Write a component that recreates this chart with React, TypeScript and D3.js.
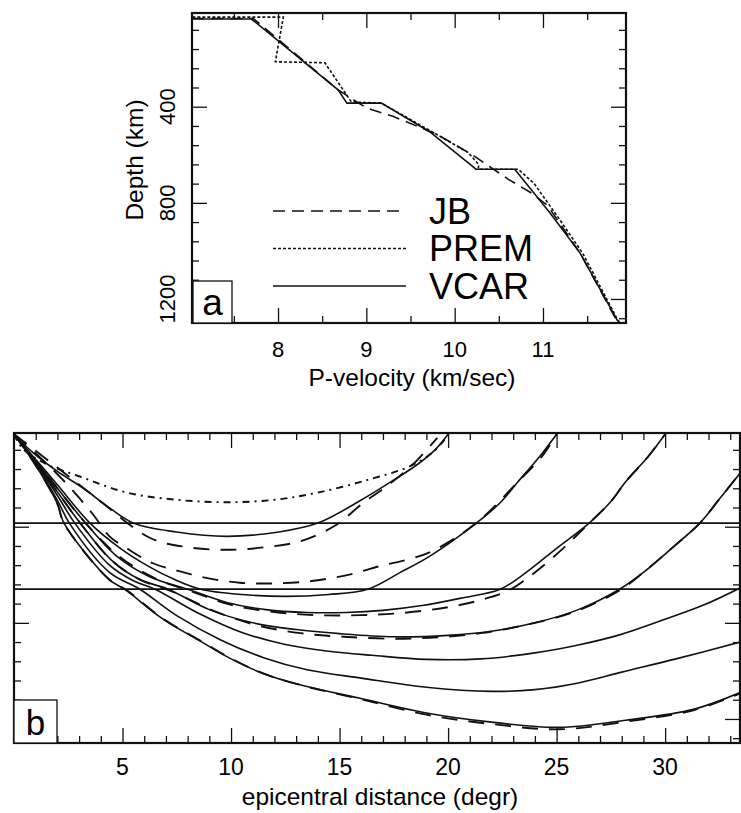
import React from 'react';
import {
    axisBottom,
    axisLeft,
    axisRight,
    axisTop,
    curveCatmullRom,
    curveLinear,
    line,
    scaleLinear,
    select
} from 'd3';

const FONT = '"Liberation Sans", Arial, Helvetica, sans-serif';

// (a) P-velocity models, [km/sec, depth km]
const jbModel = [
    [7.03, 33], [7.72, 33], [8.68, 330], [9.0, 405], [9.3, 440], [9.8, 515],
    [10.2, 600], [10.4, 650], [10.6, 700], [10.85, 755], [11.05, 810],
    [11.42, 1009], [11.85, 1300]
];
const premModel = [
    [7.03, 27], [8.06, 27], [7.97, 213], [8.53, 217], [8.83, 380], [9.17, 385],
    [9.7, 495], [10.15, 590], [10.27, 640], [10.27, 660], [10.72, 660],
    [10.9, 720], [11.19, 870], [11.45, 1010], [11.85, 1290], [11.87, 1300]
];
const vcarModel = [
    [7.03, 35], [7.7, 35], [8.68, 330], [8.78, 385], [9.17, 385], [9.72, 505],
    [10.21, 650], [10.24, 660], [10.68, 660], [11.08, 842], [11.42, 1009],
    [11.84, 1288], [11.87, 1300]
];

const modelNames = ['JB', 'PREM', 'VCAR'];
const velocityTicks = [8, 9, 10, 11];
const velocityMinorTicks = [7.5, 8.5, 9.5, 10.5, 11.5];
const depthTicks = [400, 800, 1200];
const depthMinorTicks = [80, 160, 240, 320, 480, 560, 640, 720, 880, 960, 1040, 1120, 1280];
const distanceTicks = [5, 10, 15, 20, 25, 30];
const distanceMinorTicks = [
    1, 2, 3, 4, 6, 7, 8, 9, 11, 12, 13, 14, 16, 17, 18, 19, 21, 22, 23, 24,
    26, 27, 28, 29, 31, 32, 33
];
const discontinuities = [385, 660];

// (b) ray paths, [epicentral distance degr, depth km]
const premRay20 = [
    [0, 15], [0.4, 75], [1.5, 140], [3, 190], [5.2, 258], [7.5, 288], [9.8, 298],
    [12, 288], [14, 258], [16.3, 205], [18.2, 150], [19.3, 90], [19.9, 30]
];
const vcarRay20 = [
    [0, 15], [0.9, 94], [2, 170], [3.2, 240], [4.3, 315], [5.5, 385], [7.5, 422],
    [9.8, 440], [12.2, 422], [14, 385], [15.9, 294], [17.4, 211], [18.6, 140],
    [19.4, 80], [20, 15]
];
const jbRay20 = [
    [0, 15], [1.8, 140], [3.8, 281], [6.3, 448], [8, 485], [9.8, 496], [11.6, 485],
    [13.2, 460], [14.8, 395], [16.1, 300], [17.2, 230], [18.5, 130], [19.5, 30]
];
const jbRay25 = [
    [0, 15], [1, 95], [2.2, 200], [3.6, 344], [4.4, 440], [5.2, 490], [6.4, 552],
    [7.6, 585], [8.9, 614], [10.4, 633], [12, 636], [13.8, 625], [15.5, 598],
    [16.85, 564], [18.2, 535], [19.3, 500], [21.3, 385], [23.2, 215], [24.3, 110],
    [25, 15]
];
const vcarRay25 = [
    [0, 15], [1, 120], [2, 225], [3.5, 385], [4.9, 490], [6.2, 565], [7.4, 620],
    [8.6, 660], [10.5, 682], [12.5, 690], [14.5, 682], [16.3, 660], [17.8, 590],
    [19.2, 520], [21.3, 385], [22.4, 300], [23.2, 215], [24.2, 110], [25, 15]
];
const vcarRay30 = [
    [0, 15], [1, 125], [2, 240], [3.3, 385], [4.7, 520], [6.3, 610], [8, 660],
    [9.8, 715], [11.6, 745], [13.5, 757], [15.3, 757], [17, 748], [18.8, 728],
    [20.6, 697], [22.4, 660], [23.6, 590], [25, 490], [26.5, 385], [27.5, 295],
    [28.2, 211], [29.2, 110], [30, 15]
];
const jbRay30 = [
    [0, 15], [1, 125], [2, 240], [3.3, 385], [4.8, 520], [6.5, 615], [8.2, 670],
    [10, 725], [12, 755], [14, 768], [16, 768], [18, 758], [20, 735], [21.5, 705],
    [22.8, 665], [24, 590], [25.3, 490], [26.5, 385], [27.5, 295], [28.2, 211],
    [29.2, 110], [30, 15]
];
const vcarRay35 = [
    [0, 15], [1, 130], [2, 255], [3.05, 385], [4.5, 540], [5.8, 620], [7.1, 660],
    [9, 745], [11, 800], [13, 828], [15, 845], [17.5, 858], [20, 852], [22, 835],
    [24, 800], [26, 745], [27.9, 660], [29, 590], [30.3, 490], [31.6, 385],
    [32.5, 285], [33.45, 177]
];
const jbRay35 = [
    [0, 15], [1, 130], [2, 255], [3.05, 385], [4.5, 540], [5.8, 620], [7.3, 670],
    [9.2, 750], [11.2, 810], [13.2, 843], [15.2, 858], [17.5, 866], [19.5, 860],
    [21.5, 843], [23.5, 810], [25.8, 755], [27.9, 665], [29, 590], [30.3, 490],
    [31.6, 385], [32.5, 285], [33.45, 177]
];
const vcarRay40 = [
    [0, 15], [1, 135], [2, 270], [2.8, 385], [4.4, 560], [5.5, 625], [6.5, 660],
    [8.5, 760], [10.5, 840], [12.5, 890], [14.5, 918], [16.5, 935], [19, 952],
    [21.5, 950], [24, 925], [26, 892], [27.9, 850], [30, 785], [31.8, 725],
    [33.45, 655]
];
const vcarRay45 = [
    [0, 15], [1, 140], [2, 290], [2.55, 385], [4.4, 590], [5.8, 660], [7.5, 770],
    [9.5, 870], [11.5, 945], [13.5, 995], [16, 1030], [19, 1068], [22, 1085],
    [24, 1078], [26, 1050], [28, 1005], [30.5, 950], [33.45, 880]
];
const vcarRay50 = [
    [0, 15], [1, 145], [2, 305], [2.3, 385], [4.4, 621], [5.1, 660], [6.8, 780],
    [8.6, 877], [10, 950], [11.6, 1015], [13.5, 1065], [15.9, 1113], [19, 1175],
    [22, 1213], [25.1, 1235], [28.2, 1205], [31.3, 1160], [33.45, 1090]
];
const jbRay50 = [
    [0, 15], [1, 145], [2, 305], [2.3, 385], [4.4, 621], [5.2, 665], [6.9, 785],
    [8.7, 880], [10.1, 953], [11.7, 1018], [13.6, 1068], [16, 1118], [19, 1182],
    [22, 1221], [25.1, 1243], [28.2, 1211], [31.3, 1164], [33.45, 1094]
];

const vcarRays = [vcarRay20, vcarRay25, vcarRay30, vcarRay35, vcarRay40, vcarRay45, vcarRay50];
const jbRays = [jbRay20, jbRay25, jbRay30, jbRay35, jbRay50];
const premRays = [premRay20];

const dashA = { JB: '12,7', PREM: '3,2', VCAR: null };
const dashB = { JB: '16,11', PREM: '7,5,2,5', VCAR: null };

const drawTicks = (g, x, y, xMajor, xMinor, yMajor, yMinor) => {
    const [left, right] = x.range();
    const [top, bottom] = y.range();
    const blank = () => '';

    [[xMinor, 7], [xMajor, 15]].forEach(([values, size]) => {
        g.append('g')
            .attr('transform', `translate(0,${bottom})`)
            .call(axisBottom(x).tickValues(values).tickSizeInner(-size).tickSizeOuter(0).tickFormat(blank));
        g.append('g')
            .attr('transform', `translate(0,${top})`)
            .call(axisTop(x).tickValues(values).tickSizeInner(-size).tickSizeOuter(0).tickFormat(blank));
    });
    [[yMinor, 7], [yMajor, 15]].forEach(([values, size]) => {
        g.append('g')
            .attr('transform', `translate(${left},0)`)
            .call(axisLeft(y).tickValues(values).tickSizeInner(-size).tickSizeOuter(0).tickFormat(blank));
        g.append('g')
            .attr('transform', `translate(${right},0)`)
            .call(axisRight(y).tickValues(values).tickSizeInner(-size).tickSizeOuter(0).tickFormat(blank));
    });
    g.selectAll('.domain').remove();
    g.selectAll('.tick line').attr('stroke', '#111').attr('stroke-width', 1.3);

    g.append('rect')
        .attr('x', left)
        .attr('y', top)
        .attr('width', right - left)
        .attr('height', bottom - top)
        .attr('fill', 'none')
        .attr('stroke', '#111')
        .attr('stroke-width', 2.2);
};

const panelLetter = (g, letter, x0, y0, w, h, size) => {
    g.append('rect')
        .attr('x', x0)
        .attr('y', y0 - h)
        .attr('width', w)
        .attr('height', h)
        .attr('fill', '#fff')
        .attr('stroke', '#111')
        .attr('stroke-width', 1.3);
    g.append('text')
        .attr('x', x0 + w / 2)
        .attr('y', y0 - 8)
        .attr('text-anchor', 'middle')
        .attr('font-size', size)
        .text(letter);
};

const drawVelocityPanel = (g) => {
    const x = scaleLinear().domain([7.026, 11.94]).range([192, 626]);
    const y = scaleLinear().domain([10, 1300]).range([13, 323]);

    drawTicks(g, x, y, velocityTicks, velocityMinorTicks, depthTicks, depthMinorTicks);

    const path = line().x((d) => x(d[0])).y((d) => y(d[1])).curve(curveLinear);
    const models = { JB: jbModel, PREM: premModel, VCAR: vcarModel };

    modelNames.forEach((name) => {
        g.append('path')
            .datum(models[name])
            .attr('d', path)
            .attr('fill', 'none')
            .attr('stroke', '#111')
            .attr('stroke-width', 1.6)
            .attr('stroke-dasharray', dashA[name]);
    });

    // legend
    modelNames.forEach((name, i) => {
        const ly = 211 + i * 37.5;
        g.append('line')
            .attr('x1', 273)
            .attr('x2', 406)
            .attr('y1', ly)
            .attr('y2', ly)
            .attr('stroke', '#111')
            .attr('stroke-width', 1.6)
            .attr('stroke-dasharray', dashA[name]);
        g.append('text')
            .attr('x', 429)
            .attr('y', ly + 12.5)
            .attr('font-size', 36)
            .text(name);
    });

    g.selectAll('.vlabel')
        .data(velocityTicks)
        .enter()
        .append('text')
        .attr('class', 'vlabel')
        .attr('x', (d) => x(d))
        .attr('y', 357)
        .attr('text-anchor', 'middle')
        .attr('font-size', 22)
        .text((d) => d);

    g.selectAll('.dlabel')
        .data(depthTicks)
        .enter()
        .append('text')
        .attr('class', 'dlabel')
        .attr('transform', (d) => `translate(175,${y(d)}) rotate(-90)`)
        .attr('text-anchor', 'middle')
        .attr('font-size', 22)
        .text((d) => d);

    g.append('text')
        .attr('transform', 'translate(143,160) rotate(-90)')
        .attr('text-anchor', 'middle')
        .attr('font-size', 24.5)
        .text('Depth (km)');

    g.append('text')
        .attr('x', 412)
        .attr('y', 386)
        .attr('text-anchor', 'middle')
        .attr('font-size', 24.5)
        .text('P-velocity (km/sec)');

    panelLetter(g, 'a', 193, 323, 39, 42, 37);
};

const drawRayPanel = (g) => {
    const x = scaleLinear().domain([0, 33.45]).range([14, 740]);
    const y = scaleLinear().domain([10, 1300]).range([433, 743]);

    g.append('clipPath')
        .attr('id', 'ray-clip')
        .append('rect')
        .attr('x', 14)
        .attr('y', 433)
        .attr('width', 726)
        .attr('height', 310);

    const rays = g.append('g').attr('clip-path', 'url(#ray-clip)');
    const path = line().x((d) => x(d[0])).y((d) => y(d[1])).curve(curveCatmullRom.alpha(0.5));

    // discontinuities
    rays.selectAll('.disc')
        .data(discontinuities)
        .enter()
        .append('line')
        .attr('class', 'disc')
        .attr('x1', 14)
        .attr('x2', 740)
        .attr('y1', (d) => y(d))
        .attr('y2', (d) => y(d))
        .attr('stroke', '#111')
        .attr('stroke-width', 1.7);

    [['JB', jbRays], ['PREM', premRays], ['VCAR', vcarRays]].forEach(([name, list]) => {
        rays.selectAll(`.ray-${name}`)
            .data(list)
            .enter()
            .append('path')
            .attr('class', `ray-${name}`)
            .attr('d', path)
            .attr('fill', 'none')
            .attr('stroke', '#111')
            .attr('stroke-width', name === 'VCAR' ? 1.6 : 1.9)
            .attr('stroke-dasharray', dashB[name]);
    });

    drawTicks(g, x, y, distanceTicks, distanceMinorTicks, depthTicks, depthMinorTicks);

    g.selectAll('.xlabel')
        .data(distanceTicks)
        .enter()
        .append('text')
        .attr('class', 'xlabel')
        .attr('x', (d) => x(d))
        .attr('y', 775)
        .attr('text-anchor', 'middle')
        .attr('font-size', 23)
        .text((d) => d);

    g.append('text')
        .attr('x', 380)
        .attr('y', 805)
        .attr('text-anchor', 'middle')
        .attr('font-size', 24.5)
        .text('epicentral distance (degr)');

    panelLetter(g, 'b', 14, 743, 43, 43, 35);
};

const App = () => {
    const svgRef = React.useRef<SVGSVGElement | null>(null);

    React.useEffect(() => {
        const svg = select(svgRef.current);
        svg.selectAll('*').remove();
        drawVelocityPanel(svg.append('g').attr('class', 'panel-a'));
        drawRayPanel(svg.append('g').attr('class', 'panel-b'));
    }, []);

    return (
        <svg
            ref={svgRef}
            width={741}
            height={813}
            fontFamily={FONT}
            style={{ position: 'absolute', left: 0, top: 0, background: '#fff' }}
        />
    );
};

export default App;
